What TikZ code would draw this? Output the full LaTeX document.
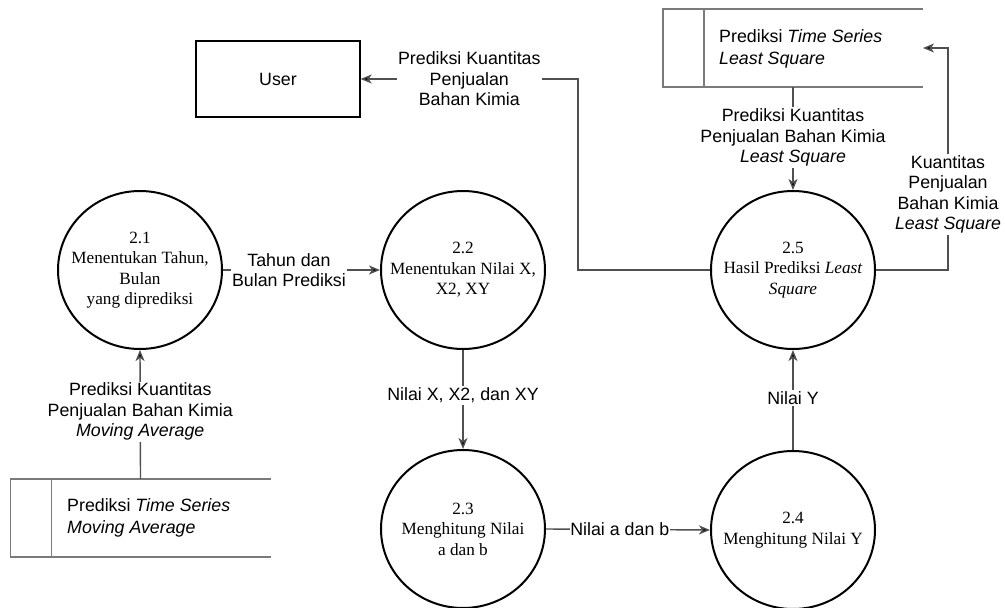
\documentclass[tikz,border=0pt]{standalone}
\usepackage{fontspec}
\setmainfont{Liberation Serif}
\setsansfont{Liberation Sans}
\usetikzlibrary{arrows.meta,shapes.geometric}
\definecolor{flowgray}{HTML}{505050}
\definecolor{storegray}{HTML}{7A7A7A}
\tikzset{
  process/.style={ellipse, draw=black, line width=2pt, minimum width=164pt, minimum height=158pt,
    inner sep=0pt},
  proctext/.style={align=center, font=\rmfamily\fontsize{17.2}{20.5}\selectfont},
  entity/.style={rectangle, draw=black, line width=1.3pt, minimum width=164pt, minimum height=76pt,
    font=\sffamily\fontsize{17.8}{20.5}\selectfont},
  storebox/.style={rectangle, minimum width=260pt, minimum height=78pt, inner sep=0pt},
  storeline/.style={draw=storegray, line width=1.6pt},
  storetext/.style={anchor=west, align=left, inner sep=0pt, font=\sffamily\fontsize{17.8}{21.5}\selectfont},
  flow/.style={draw=flowgray, line width=1.4pt, -{Stealth[length=11pt,width=9pt,inset=3pt,fill=black]}},
  flowlabel/.style={fill=white, inner sep=1.5pt, align=center, text=black,
    font=\sffamily\fontsize{17.8}{20.5}\selectfont}
}
\begin{document}
\begin{tikzpicture}[x=1pt,y=-1pt]
\useasboundingbox (0,0) rectangle (1005,608);

% processes: fixed-size bubbles with the caption set at the centre
\node[process, label={[proctext]center:2.1\\Menentukan Tahun,\\Bulan\\yang diprediksi}] (p21) at (140,270) {};
\node[process, label={[proctext]center:2.2\\Menentukan Nilai X,\\X2, XY}] (p22) at (463,270) {};
\node[process, label={[proctext]center:2.3\\Menghitung Nilai\\a dan b}] (p23) at (463,529) {};
\node[process, label={[proctext]center:2.4\\Menghitung Nilai Y}] (p24) at (793,530) {};
\node[process, label={[proctext]center:2.5\\Hasil Prediksi \textit{Least}\\\textit{Square}}] (p25) at (793,270) {};

% external entity
\node[entity] (user) at (278,79) {User};

% data stores (open on the right)
\node[storebox] (dsls) at (793,48) {};
\draw[storeline] (dsls.north east) -- (dsls.north west) -- (dsls.south west) -- (dsls.south east);
\draw[storeline] ([xshift=41pt]dsls.north west) -- ([xshift=41pt]dsls.south west);
\node[storetext] (dslstext) at (719,49) {Prediksi \textit{Time Series}\\\textit{Least Square}};

\node[storebox] (dsma) at (140.5,518) {};
\draw[storeline] (dsma.north east) -- (dsma.north west) -- (dsma.south west) -- (dsma.south east);
\draw[storeline] ([xshift=41pt]dsma.north west) -- ([xshift=41pt]dsma.south west);
\node[storetext] (dsmatext) at (67,518) {Prediksi \textit{Time Series}\\\textit{Moving Average}};

% bend points
\coordinate (bendU) at (578,270);
\coordinate (bendS) at (948,270);
\coordinate (dslsIn) at (923,48);

% data flows
\draw[flow] (p21.east) -- node[flowlabel, pos=0.42] {Tahun dan\\Bulan Prediksi} (p22.west);
\draw[flow] (p22.south) -- node[flowlabel, pos=0.46] {Nilai X, X2, dan XY} (p23.north);
\draw[flow] (p23.east) -- node[flowlabel, pos=0.45, inner sep=0.5pt] {Nilai a dan b} (p24.west);
\draw[flow] (p24.north) -- node[flowlabel, pos=0.52] {Nilai Y} (p25.south);
\draw[flow] (dsma.north) -- node[flowlabel, pos=0.52] {Prediksi Kuantitas\\Penjualan Bahan Kimia\\\textit{Moving Average}} (p21.south);
\draw[flow] (dsls.south) -- node[flowlabel, pos=0.49] {Prediksi Kuantitas\\Penjualan Bahan Kimia\\\textit{Least Square}} (p25.north);
\draw[flow] (p25.west) -- (bendU) |- node[flowlabel, pos=0.75] {Prediksi Kuantitas\\Penjualan\\Bahan Kimia} (user.east);
\draw[flow] (p25.east) -- (bendS) |- node[flowlabel, pos=0.17] {Kuantitas\\Penjualan\\Bahan Kimia\\\textit{Least Square}} (dslsIn);
\end{tikzpicture}
\end{document}
